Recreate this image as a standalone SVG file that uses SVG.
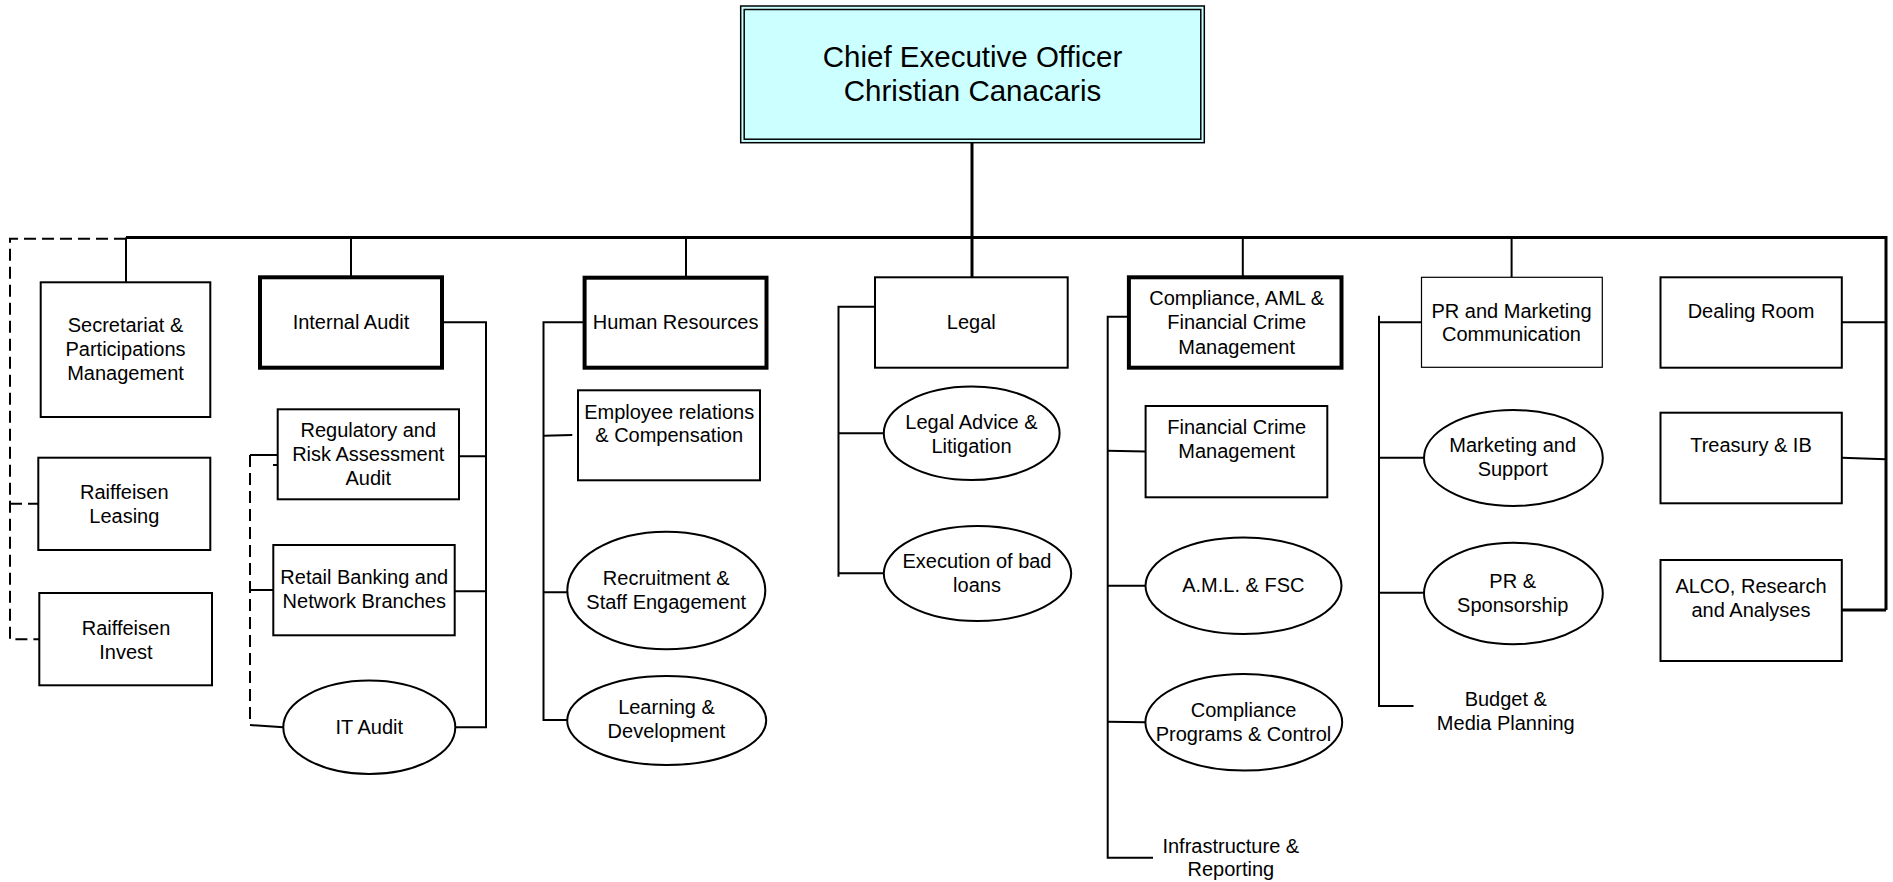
<svg xmlns="http://www.w3.org/2000/svg" width="1893" height="882" viewBox="0 0 1893 882">
<style>
.box{fill:#fff;stroke:#000;stroke-width:2}
.thick{stroke-width:4}
.thin{stroke-width:1.2}
.conn{fill:none;stroke:#000;stroke-width:2}
.main{stroke-width:3}
.dash{stroke-dasharray:12 6}
.t{font-family:"Liberation Sans",Arial,sans-serif;font-size:20px;text-anchor:middle;fill:#000}
.ceo{font-size:29.5px}
</style>
<rect width="1893" height="882" fill="#fff"/>
<g id="connectors">
  <path class="conn main" d="M126 237.5H1886V610"/>
  <path class="conn main" d="M972 142.7V277.3"/>
  <path class="conn" d="M126 237.5V282.3M351 237.5V277.3M686 237.5V277.7M1242.8 237.5V277.3M1511.6 237.5V277.3"/>
  <path class="conn dash" d="M126 238.7H10V639.3H39"/>
  <path class="conn dash" d="M10 503.7H38"/>
  <path class="conn" d="M442 322.3H486V727.3H455.3"/>
  <path class="conn" d="M459 456.3H486M454.7 591.3H486"/>
  <path class="conn dash" d="M250 455V725"/>
  <path class="conn" d="M250 455H277.7M250 590H273.3M250 725L283.3 727.3M273 465H277.7"/>
  <path class="conn" d="M584.6 322.3H543.5V720H567.3"/>
  <path class="conn" d="M543.5 435.7L572.3 435M543.5 592.3H567.3"/>
  <path class="conn" d="M720.4 615V619" style="stroke-width:1"/>
  <path class="conn" d="M875 306.7H838.5V576.7"/>
  <path class="conn" d="M838.5 433.3H883.8M838.5 573.3H883.8"/>
  <path class="conn" d="M1128.9 316.7H1107.7V857.7H1153"/>
  <path class="conn" d="M1107.7 450.7L1145.6 451.5M1107.7 585.7H1145.6M1107.7 721.7L1145.6 722.3"/>
  <path class="conn" d="M1421.5 322.3H1379V706H1413.5"/>
  <path class="conn" d="M1379 315.7V322.3M1379 457.7H1424M1379 592.7H1424"/>
  <path class="conn" d="M1841.8 322.3H1886M1841.8 457.7L1886 459.3"/>
  <path class="conn main" d="M1841.8 610H1886"/>
</g>
<g id="ceo">
  <rect x="740.7" y="6" width="463.6" height="136.7" fill="#ccffff" stroke="#000" stroke-width="1.5"/>
  <rect x="744.2" y="9.5" width="456.6" height="129.7" fill="none" stroke="#000" stroke-width="1.5"/>
  <text class="t ceo" x="972.5" y="66.7">Chief Executive Officer</text>
  <text class="t ceo" x="972.5" y="101">Christian Canacaris</text>
</g>
<g id="secretariat">
  <rect class="box" x="40.7" y="282.3" width="169.6" height="134.7"/>
  <text class="t" x="125.5" y="332">Secretariat &amp;</text>
  <text class="t" x="125.5" y="356">Participations</text>
  <text class="t" x="125.5" y="380">Management</text>
</g>
<g id="leasing">
  <rect class="box" x="38.3" y="457.7" width="172" height="92.3"/>
  <text class="t" x="124.3" y="499">Raiffeisen</text>
  <text class="t" x="124.3" y="523">Leasing</text>
</g>
<g id="invest">
  <rect class="box" x="39.3" y="593" width="172.7" height="92.3"/>
  <text class="t" x="126" y="635">Raiffeisen</text>
  <text class="t" x="126" y="658.5">Invest</text>
</g>
<g id="internal-audit">
  <rect class="box thick" x="260" y="277.3" width="182" height="90.4"/>
  <text class="t" x="351" y="329">Internal Audit</text>
</g>
<g id="regulatory">
  <rect class="box" x="277.7" y="409.3" width="181.3" height="90"/>
  <text class="t" x="368.3" y="437">Regulatory and</text>
  <text class="t" x="368.3" y="461">Risk Assessment</text>
  <text class="t" x="368.3" y="485">Audit</text>
</g>
<g id="retail">
  <rect class="box" x="273.3" y="545" width="181.4" height="90.3"/>
  <text class="t" x="364.3" y="584">Retail Banking and</text>
  <text class="t" x="364.3" y="608">Network Branches</text>
</g>
<g id="it-audit">
  <ellipse class="box" cx="369.3" cy="727.3" rx="86" ry="46.7"/>
  <text class="t" x="369.3" y="734">IT Audit</text>
</g>
<g id="hr">
  <rect class="box thick" x="584.6" y="277.7" width="181.9" height="90"/>
  <text class="t" x="675.6" y="329">Human Resources</text>
</g>
<g id="employee">
  <rect class="box" x="578" y="390.3" width="182" height="90"/>
  <text class="t" x="669.2" y="419">Employee relations</text>
  <text class="t" x="669.2" y="442">&amp; Compensation</text>
</g>
<g id="recruitment">
  <ellipse class="box" cx="666.3" cy="590.5" rx="99" ry="58.8"/>
  <text class="t" x="666.2" y="585">Recruitment &amp;</text>
  <text class="t" x="666.2" y="609">Staff Engagement</text>
</g>
<g id="learning">
  <ellipse class="box" cx="666.7" cy="720.5" rx="99.5" ry="44.5"/>
  <text class="t" x="666.5" y="714">Learning &amp;</text>
  <text class="t" x="666.5" y="738">Development</text>
</g>
<g id="legal">
  <rect class="box" x="875" y="277.3" width="192.7" height="90.4"/>
  <text class="t" x="971.3" y="329">Legal</text>
</g>
<g id="legal-advice">
  <ellipse class="box" cx="971.7" cy="433.3" rx="87.9" ry="46.7"/>
  <text class="t" x="971.5" y="428.7">Legal Advice &amp;</text>
  <text class="t" x="971.5" y="452.7">Litigation</text>
</g>
<g id="execution">
  <ellipse class="box" cx="977.5" cy="573.5" rx="93.7" ry="47.5"/>
  <text class="t" x="977" y="568">Execution of bad</text>
  <text class="t" x="977" y="592">loans</text>
</g>
<g id="compliance">
  <rect class="box thick" x="1128.9" y="277.3" width="212.6" height="90.4"/>
  <text class="t" x="1236.7" y="305">Compliance, AML &amp;</text>
  <text class="t" x="1236.7" y="329">Financial Crime</text>
  <text class="t" x="1236.7" y="353.5">Management</text>
</g>
<g id="fin-crime">
  <rect class="box" x="1145.6" y="406" width="181.7" height="91.3"/>
  <text class="t" x="1236.7" y="434">Financial Crime</text>
  <text class="t" x="1236.7" y="458">Management</text>
</g>
<g id="aml">
  <ellipse class="box" cx="1243.5" cy="585.8" rx="98" ry="48.2"/>
  <text class="t" x="1243.3" y="592">A.M.L. &amp; FSC</text>
</g>
<g id="compliance-programs">
  <ellipse class="box" cx="1243.8" cy="722.3" rx="98.4" ry="48.3"/>
  <text class="t" x="1243.5" y="717">Compliance</text>
  <text class="t" x="1243.5" y="741">Programs &amp; Control</text>
</g>
<g id="infrastructure">
  <text class="t" x="1230.8" y="852.7">Infrastructure &amp;</text>
  <text class="t" x="1230.8" y="876">Reporting</text>
</g>
<g id="pr-marketing">
  <rect class="box thin" x="1421.5" y="277.3" width="180.8" height="90"/>
  <text class="t" x="1511.5" y="317.7">PR and Marketing</text>
  <text class="t" x="1511.5" y="341">Communication</text>
</g>
<g id="marketing-support">
  <ellipse class="box" cx="1513.4" cy="458" rx="89.4" ry="48"/>
  <text class="t" x="1512.7" y="452">Marketing and</text>
  <text class="t" x="1512.7" y="476">Support</text>
</g>
<g id="pr-sponsorship">
  <ellipse class="box" cx="1513.4" cy="593.5" rx="89.4" ry="50.8"/>
  <text class="t" x="1512.7" y="588">PR &amp;</text>
  <text class="t" x="1512.7" y="612">Sponsorship</text>
</g>
<g id="budget">
  <text class="t" x="1505.8" y="706">Budget &amp;</text>
  <text class="t" x="1505.8" y="730">Media Planning</text>
</g>
<g id="dealing">
  <rect class="box" x="1660.5" y="277.3" width="181.3" height="90.4"/>
  <text class="t" x="1751" y="317.7">Dealing Room</text>
</g>
<g id="treasury">
  <rect class="box" x="1660.5" y="412.7" width="181.3" height="90.6"/>
  <text class="t" x="1751" y="452">Treasury &amp; IB</text>
</g>
<g id="alco">
  <rect class="box" x="1660.5" y="560" width="181.3" height="101"/>
  <text class="t" x="1751" y="593">ALCO, Research</text>
  <text class="t" x="1751" y="617">and Analyses</text>
</g>
</svg>
